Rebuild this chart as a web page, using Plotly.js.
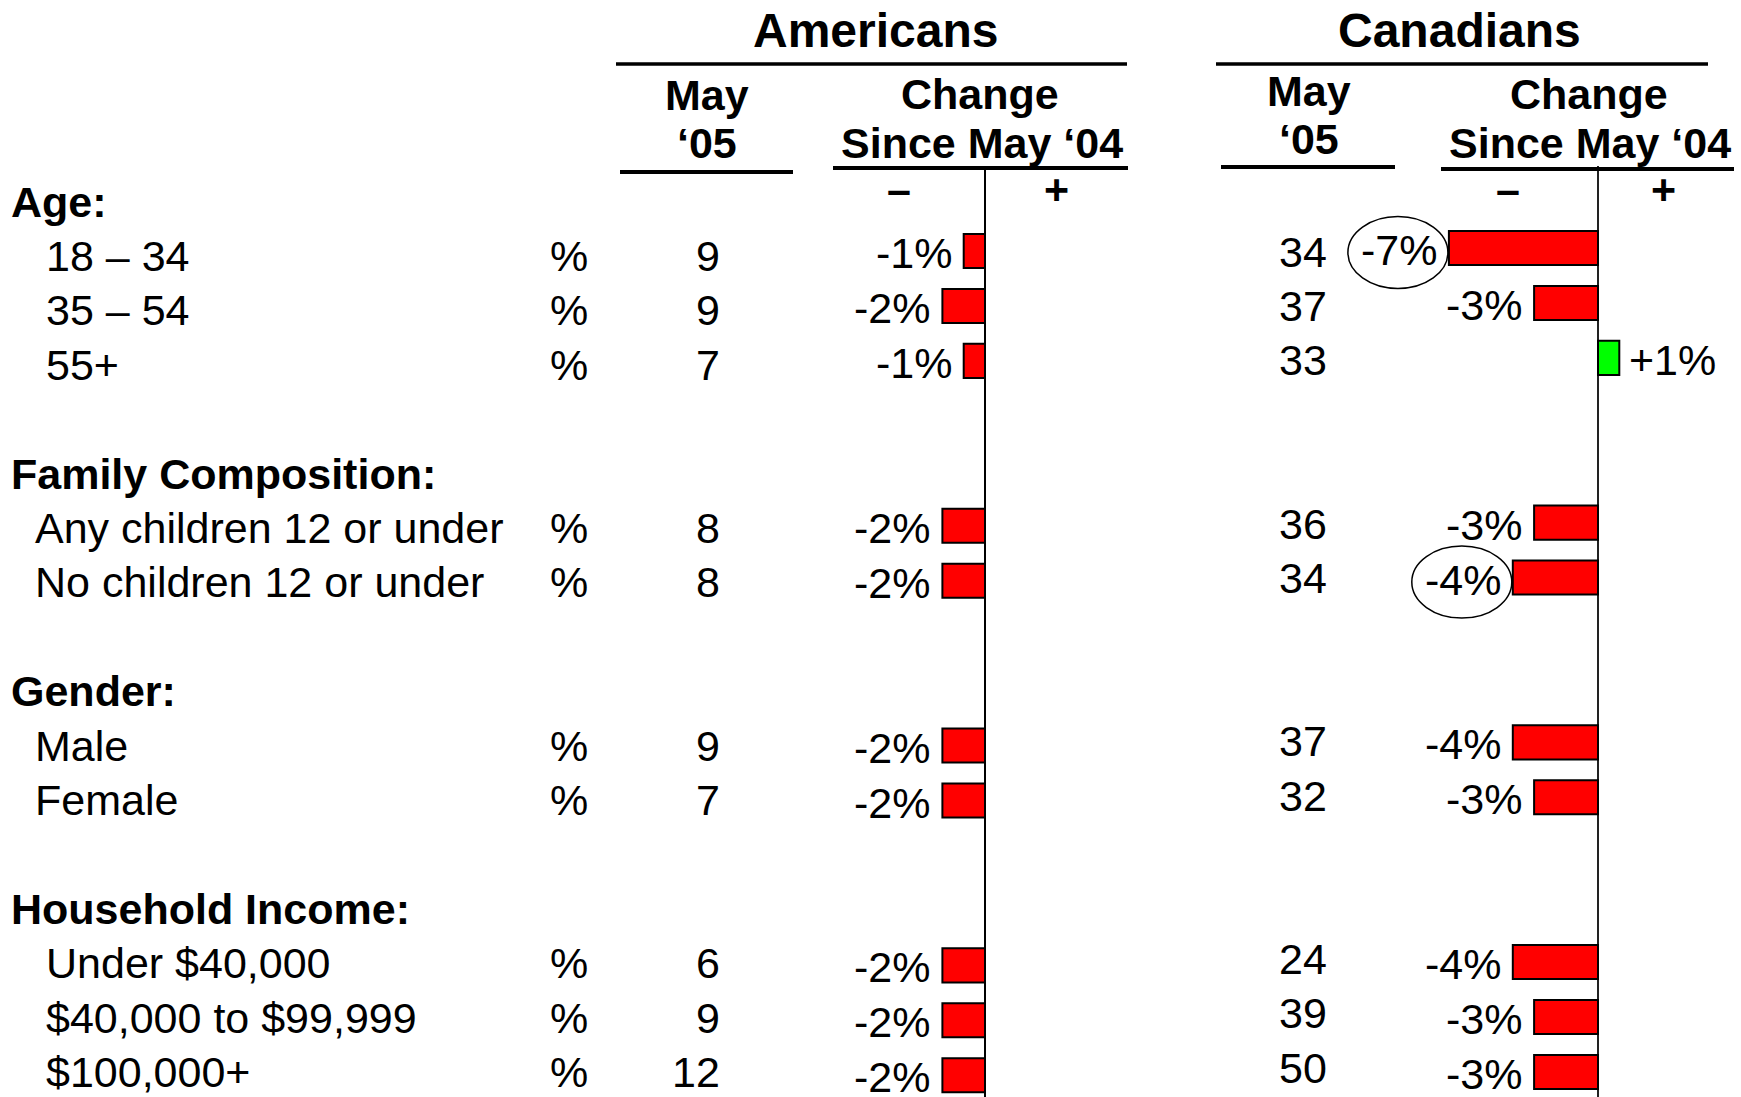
<!DOCTYPE html>
<html>
<head>
<meta charset="utf-8">
<script src="https://cdn.plot.ly/plotly-3.0.1.min.js"></script>
<style>html,body{margin:0;padding:0;background:#fff;}#chart{width:1741px;height:1097px;}</style>
</head>
<body>
<div id="chart"></div>
<script>
// ---------------- DATA ----------------
const groups = ['Age:', 'Family Composition:', 'Gender:', 'Household Income:'];
const categories = ['18 – 34', '35 – 54', '55+', 'Any children 12 or under', 'No children 12 or under',
                    'Male', 'Female', 'Under $40,000', '$40,000 to $99,999', '$100,000+'];
const categoryGroup = [0, 0, 0, 1, 1, 2, 2, 3, 3, 3];
const unitLabel = '%';
const usMay05 = [9, 9, 7, 8, 8, 9, 7, 6, 9, 12];
const usChange = [-1, -2, -1, -2, -2, -2, -2, -2, -2, -2];
const caMay05 = [34, 37, 33, 36, 34, 37, 32, 24, 39, 50];
const caChange = [-7, -3, 1, -3, -4, -4, -3, -4, -3, -3];
const caCircled = ['18 – 34', 'No children 12 or under'];
const countryTitles = ['Americans', 'Canadians'];
const colHeadA = ['May', '‘05'];
const colHeadB = ['Change', 'Since May ‘04'];

// ---------------- LAYOUT HELPERS ----------------
const W = 1741, H = 1097;
const FONT = 'Liberation Sans, Arial, Helvetica, sans-serif';
const FS = 43;
const groupIndent = [46, 35, 35, 46];

// slot index for each row (header + items + blank line between groups)
let k = -1; const headerSlot = {}; const slots = [];
categories.forEach((c, i) => {
  const g = categoryGroup[i];
  if (!(g in headerSlot)) { if (i > 0) k += 1; headerSlot[g] = k; k += 1; }
  slots.push(k); k += 1;
});

function yRange(p0, pitch, topPx) { return [(H - p0) / pitch, (topPx - p0) / pitch]; }
function xRange(zeroPx, pxPerUnit) { return [-zeroPx / pxPerUnit, (W - zeroPx) / pxPerUnit]; }
const PXU = 21.3;
const usZero = 985, caZero = 1598;
const usTop = 168, caTop = 166;

const hidden = {showgrid: false, zeroline: false, showticklabels: false, ticks: '', showline: false, fixedrange: true};

const px = v => v / W;
const py = v => 1 - v / H;
const fmt = v => (v > 0 ? '+' : '') + v + '%';

// ---------------- TRACES ----------------
const barColor = v => v < 0 ? '#FF0000' : '#00FF00';
const traces = [
  {type: 'scatter', x: [], y: [], xaxis: 'x', yaxis: 'y', hoverinfo: 'skip'},
  {type: 'bar', orientation: 'h', x: usChange, y: slots, xaxis: 'x2', yaxis: 'y2', width: 0.62,
   marker: {color: usChange.map(barColor), line: {color: '#000', width: 2}}, hoverinfo: 'skip'},
  {type: 'bar', orientation: 'h', x: caChange, y: slots, xaxis: 'x3', yaxis: 'y3', width: 0.62,
   marker: {color: caChange.map(barColor), line: {color: '#000', width: 2}}, hoverinfo: 'skip'},
  {type: 'scatter', x: [], y: [], xaxis: 'x4', yaxis: 'y4', hoverinfo: 'skip'}
];

// ---------------- ANNOTATIONS ----------------
const ann = [];
function A(text, o) {
  ann.push(Object.assign({text: text, showarrow: false, font: {family: FONT, size: FS, color: '#000'},
    xanchor: 'center', yanchor: 'middle', borderpad: 0, borderwidth: 0}, o));
}
// group headers
groups.forEach((g, gi) => A('<b>' + g + '</b>', {xref: 'paper', x: px(11), xanchor: 'left', yref: 'y', y: headerSlot[gi]}));
categories.forEach((c, i) => {
  const s = slots[i];
  A(c, {xref: 'paper', x: px(groupIndent[categoryGroup[i]]), xanchor: 'left', yref: 'y', y: s});
  A(unitLabel, {xref: 'paper', x: px(568.5), yref: 'y', y: s});
  A(String(usMay05[i]), {xref: 'paper', x: px(720), xanchor: 'right', yref: 'y', y: s});
  A(fmt(usChange[i]), {xref: 'x2', x: usChange[i], xanchor: usChange[i] < 0 ? 'right' : 'left',
    xshift: usChange[i] < 0 ? -12 : 10, yref: 'y2', y: s, yshift: -2});
  A(String(caMay05[i]), {xref: 'paper', x: px(1327), xanchor: 'right', yref: 'y4', y: s});
  A(fmt(caChange[i]), {xref: 'x3', x: caChange[i], xanchor: caChange[i] < 0 ? 'right' : 'left',
    xshift: caChange[i] < 0 ? -12 : 10, yref: 'y3', y: s, yshift: -2});
});
// titles & column headers
A('<b>' + countryTitles[0] + '</b>', {xref: 'paper', x: px(876), yref: 'paper', y: py(30), font: {family: FONT, size: 48, color: '#000'}});
A('<b>' + countryTitles[1] + '</b>', {xref: 'paper', x: px(1459), yref: 'paper', y: py(30), font: {family: FONT, size: 48, color: '#000'}});
A('<b>' + colHeadA[0] + '</b>', {xref: 'paper', x: px(707), yref: 'paper', y: py(95)});
A('<b>' + colHeadA[1] + '</b>', {xref: 'paper', x: px(707), yref: 'paper', y: py(143)});
A('<b>' + colHeadB[0] + '</b>', {xref: 'paper', x: px(980), yref: 'paper', y: py(94)});
A('<b>' + colHeadB[1] + '</b>', {xref: 'paper', x: px(982), yref: 'paper', y: py(143)});
A('<b>' + colHeadA[0] + '</b>', {xref: 'paper', x: px(1309), yref: 'paper', y: py(91)});
A('<b>' + colHeadA[1] + '</b>', {xref: 'paper', x: px(1309), yref: 'paper', y: py(139)});
A('<b>' + colHeadB[0] + '</b>', {xref: 'paper', x: px(1589), yref: 'paper', y: py(94)});
A('<b>' + colHeadB[1] + '</b>', {xref: 'paper', x: px(1590), yref: 'paper', y: py(143)});
A('<b>–</b>', {xref: 'paper', x: px(899), yref: 'paper', y: py(189)});
A('<b>+</b>', {xref: 'paper', x: px(1056), yref: 'paper', y: py(189)});
A('<b>–</b>', {xref: 'paper', x: px(1508), yref: 'paper', y: py(189)});
A('<b>+</b>', {xref: 'paper', x: px(1663), yref: 'paper', y: py(189)});

// ---------------- SHAPES ----------------
const shapes = [];
function hline(x0, x1, y, w) {
  shapes.push({type: 'line', xref: 'paper', yref: 'paper', x0: px(x0), x1: px(x1), y0: py(y), y1: py(y),
    line: {color: '#000', width: w}});
}
hline(616, 1127, 64, 3.5);
hline(1216, 1708, 64, 3.5);
hline(620, 793, 172, 4);
hline(833, 1128, 168, 4);
hline(1221, 1395, 167, 4);
hline(1441, 1734, 169, 4);
categories.forEach((c, i) => {
  if (caCircled.indexOf(c) >= 0) {
    shapes.push({type: 'circle', xref: 'x3', yref: 'y3', xsizemode: 'pixel', ysizemode: 'pixel',
      xanchor: caChange[i], yanchor: slots[i], x0: -101, x1: -1, y0: -40.5, y1: 31.5,
      line: {color: '#000', width: 1.5}, fillcolor: 'rgba(0,0,0,0)'});
  }
});

const layout = {
  width: W, height: H, margin: {l: 0, r: 0, t: 0, b: 0, pad: 0},
  paper_bgcolor: '#fff', plot_bgcolor: 'rgba(0,0,0,0)', showlegend: false,
  xaxis: Object.assign({}, hidden, {range: [0, W], domain: [0, 1], anchor: 'y'}),
  yaxis: Object.assign({}, hidden, {range: yRange(256, 54.4, 0), domain: [0, 1], anchor: 'x'}),
  xaxis2: Object.assign({}, hidden, {range: xRange(usZero, PXU), domain: [0, 1], anchor: 'y2',
    zeroline: true, zerolinecolor: '#000', zerolinewidth: 2}),
  yaxis2: Object.assign({}, hidden, {range: yRange(251, 54.95, usTop), domain: [0, 1 - usTop / H], anchor: 'x2'}),
  xaxis3: Object.assign({}, hidden, {range: xRange(caZero, PXU), domain: [0, 1], anchor: 'y3',
    zeroline: true, zerolinecolor: '#222', zerolinewidth: 1.5}),
  yaxis3: Object.assign({}, hidden, {range: yRange(248, 54.93, caTop), domain: [0, 1 - caTop / H], anchor: 'x3'}),
  xaxis4: Object.assign({}, hidden, {range: [0, W], domain: [0, 1], anchor: 'y4'}),
  yaxis4: Object.assign({}, hidden, {range: yRange(251.5, 54.4, 0), domain: [0, 1], anchor: 'x4'}),
  annotations: ann,
  shapes: shapes,
  bargap: 0
};

Plotly.newPlot('chart', traces, layout, {displayModeBar: false, staticPlot: true});
</script>
</body>
</html>
